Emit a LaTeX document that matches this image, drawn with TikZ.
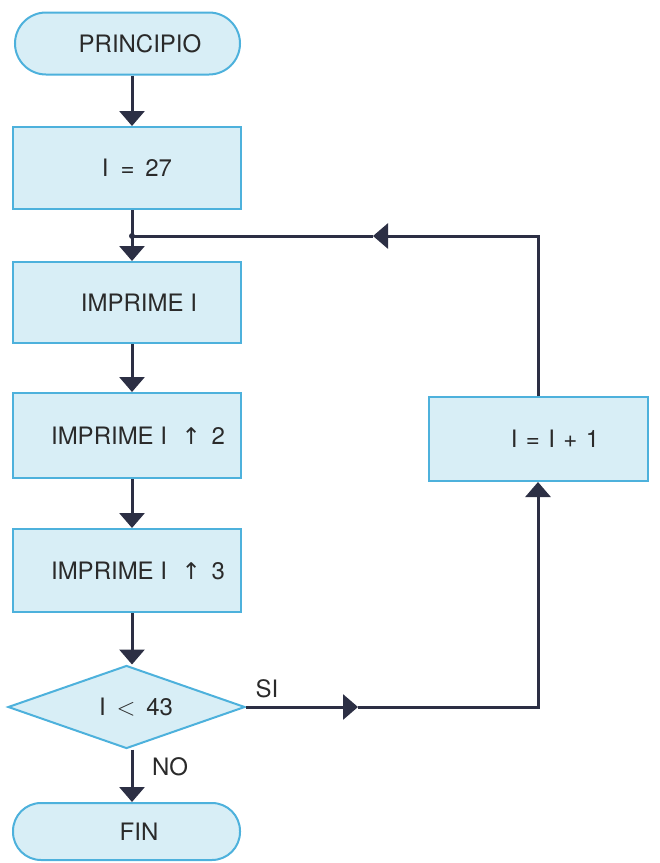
\documentclass[tikz,border=0pt]{standalone}
\usepackage{fontspec}
\setmainfont{TeX Gyre Heros}
\newfontfamily\symfont{DejaVu Sans}
\usetikzlibrary{arrows.meta,shapes.geometric}
\definecolor{boxfill}{HTML}{D8EEF6}
\definecolor{boxline}{HTML}{4DB1DC}
\definecolor{linecol}{HTML}{2C2F44}
\definecolor{txtcol}{HTML}{2A2A2A}
\newcommand{\upar}{{\symfont\fontsize{23}{26}\selectfont ↑}}
\begin{document}
\begin{tikzpicture}[x=1pt,y=-1pt,
  every node/.style={text=txtcol,font=\fontsize{24}{28}\selectfont},
  procbox/.style={draw=boxline,fill=boxfill,line width=2pt,rectangle,
     minimum width=228pt,minimum height=82pt,inner sep=0pt},
  pill/.style={draw=boxline,fill=boxfill,line width=2pt,rectangle,
     rounded corners=#1,inner sep=0pt},
  decide/.style={draw=boxline,fill=boxfill,line width=2pt,diamond,aspect=2.86,
     minimum width=237pt,minimum height=83pt,inner sep=0pt},
  tshift/.style={execute at begin node={\hspace*{#1}}},
  conn/.style={draw=linecol,line width=3pt},
  flow/.style={conn,-{Triangle[length=15pt,width=25pt]}}
]
\useasboundingbox (0,0) rectangle (660,863);

\node[pill=31pt,minimum width=225pt,minimum height=62pt,tshift=25pt] (start) at (127.5,43.5) {PRINCIPIO};
\node[procbox,tshift=20pt] (b1) at (127,168) {I\hspace{0.5em}=\hspace{0.45em}27};
\node[procbox,minimum height=81pt,tshift=24pt] (b2) at (127,302.5) {IMPRIME I};
\node[procbox,minimum height=85pt,tshift=22pt] (b3) at (127,435.5) {IMPRIME I\hspace{0.6em}\upar\hspace{0.45em}2};
\node[procbox,minimum height=83pt,tshift=22pt] (b4) at (127,570.5) {IMPRIME I\hspace{0.6em}\upar\hspace{0.45em}3};
\node[decide,tshift=19pt] (d) at (126.5,707) {I\hspace{0.45em}$<$\hspace{0.45em}43};
\node[pill=28pt,minimum width=227pt,minimum height=57pt,tshift=25pt] (fin) at (126.5,831.5) {FIN};
\node[procbox,minimum width=219pt,minimum height=84pt,tshift=33pt] (inc) at (538.5,439) {I\hspace{0.35em}=\hspace{0.35em}I\hspace{0.35em}+\hspace{0.35em}1};

\node (si) at (267,689) {SI};
\node (no) at (170,767) {NO};

\coordinate (j) at (132,236);
\coordinate (m1) at (358,707);
\coordinate (c1) at (538,707);
\coordinate (c2) at (538,236);
\coordinate (m2) at (373,236);

\draw[flow] (start.south -| j) -- (b1.north -| j);
\draw[conn] (b1.south -| j) -- (j);
\draw[flow] (j) -- (b2.north -| j);
\draw[flow] (b2.south -| j) -- (b3.north -| j);
\draw[flow] (b3.south -| j) -- (b4.north -| j);
\draw[flow] (b4.south -| j) -- (d.north -| j);
\draw[flow] (d.south -| j) -- (fin.north -| j);

\draw[flow] (d.east) -- (m1);
\draw[flow] (m1) -- (c1) -- (inc.south -| c1);
\draw[flow] (inc.north -| c2) -- (c2) -- (m2);
\draw[conn] (m2) -- (j);
\fill[linecol] (j) circle (3pt);
\end{tikzpicture}
\end{document}
